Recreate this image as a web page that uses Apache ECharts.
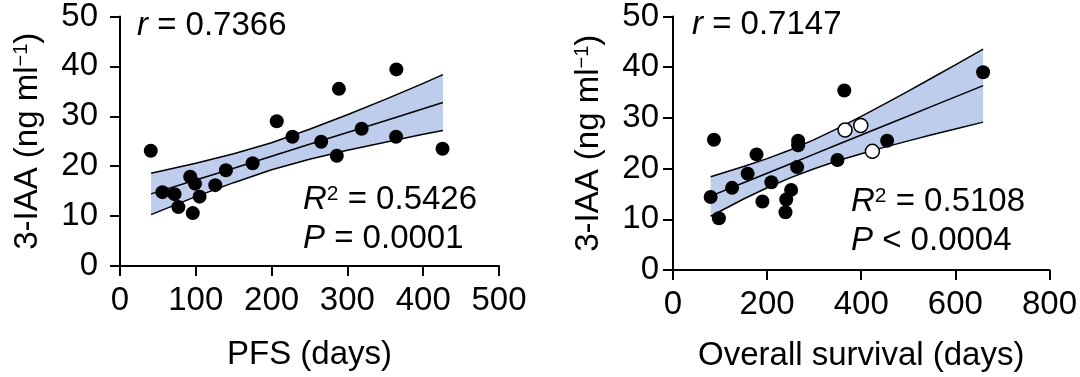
<!DOCTYPE html>
<html>
<head>
<meta charset="utf-8">
<script src="https://cdn.jsdelivr.net/npm/echarts@6/dist/echarts.min.js"></script>
<style>
html,body{margin:0;padding:0;background:#fff;}
#chart{width:1080px;height:377px;}
</style>
</head>
<body>
<div id="chart"></div>
<script>
// ---- Data ----
const pfsX = [40.6, 56, 71.9, 77, 92.6, 99, 96, 105, 125.7, 139.8, 175, 206.8, 227.5, 265.4, 286, 288.8, 318.8, 364.6, 364.2, 425.5];
const pfsY = [23.1, 14.8, 14.4, 11.8, 17.9, 16.5, 10.6, 13.9, 16.2, 19.2, 20.6, 29.0, 25.9, 24.9, 22.1, 35.5, 27.5, 39.4, 25.9, 23.5];

const pfsFitX     = [41, 100, 150, 200, 250, 300, 350, 400, 426];
const pfsFitMid   = [14.45, 17.25, 19.6, 22.0, 24.4, 26.75, 29.1, 31.5, 32.75];
const pfsFitUpper = [18.6, 20.6, 22.5, 24.7, 27.4, 30.3, 33.4, 36.6, 38.35];
const pfsFitLower = [10.3, 13.9, 16.7, 19.3, 21.4, 23.2, 24.8, 26.4, 27.15];

const osX = [80, 87, 97.5, 125.6, 158.6, 177.5, 190, 209, 239, 240.6, 251, 263.8, 265.9, 265.9, 349.5, 364, 455, 659];
const osY = [14.4, 25.7, 10.2, 16.2, 19.0, 22.8, 13.5, 17.3, 11.4, 13.9, 15.8, 20.3, 25.5, 24.6, 21.7, 35.4, 25.5, 39.0];
const osOpenX = [365.6, 399, 423.7];
const osOpenY = [27.6, 28.5, 23.4];

const osFitX     = [80, 150, 200, 250, 300, 350, 400, 450, 500, 550, 600, 659];
const osFitMid   = [14.57, 17.21, 19.09, 20.97, 22.85, 24.74, 26.62, 28.5, 30.38, 32.27, 34.15, 36.37];
const osFitUpper = [18.4, 20.4, 21.96, 23.72, 25.72, 27.94, 30.3, 32.76, 35.29, 37.87, 40.47, 43.57];
const osFitLower = [10.6, 14.0, 16.22, 18.22, 19.98, 21.54, 22.94, 24.24, 25.47, 26.67, 27.83, 29.17];

const yTicks = [0, 10, 20, 30, 40, 50];
const pfsTicks = [0, 100, 200, 300, 400, 500];
const osTicks = [0, 200, 400, 600, 800];

const texts = {
  left:  {r: '0.7366', r2: '0.5426', p: '{i|P} = 0.0001'},
  right: {r: '0.7147', r2: '0.5108', p: '{i|P} < 0.0004'}
};

// ---- helpers ----
const FONT = 'Liberation Sans, Arial, Helvetica, sans-serif';
const FS = 33;
const BAND = '#bdcdeb';
const zip = (a, b) => a.map((v, i) => [v, b[i]]);

function bandSeries(xs, up, lo, xi) {
  return {
    type: 'custom', xAxisIndex: xi, yAxisIndex: xi, z: 1, silent: true,
    data: [0],
    renderItem: function (params, api) {
      const pts = [];
      for (let i = 0; i < xs.length; i++) pts.push(api.coord([xs[i], up[i]]));
      for (let i = xs.length - 1; i >= 0; i--) pts.push(api.coord([xs[i], lo[i]]));
      return {type: 'polygon', shape: {points: pts}, style: {fill: BAND, stroke: null}};
    }
  };
}
function lineSeries(xs, ys, xi) {
  return {
    type: 'line', xAxisIndex: xi, yAxisIndex: xi, z: 2, silent: true,
    data: zip(xs, ys), symbol: 'none',
    lineStyle: {color: '#000', width: 1.5}
  };
}
function xAxisCfg(gi, max, interval, name, gap) {
  return {
    gridIndex: gi, type: 'value', min: 0, max: max, interval: interval,
    name: name, nameLocation: 'middle', nameGap: gap,
    nameTextStyle: {fontFamily: FONT, fontSize: FS, color: '#000'},
    axisLine: {show: true, onZero: false, lineStyle: {color: '#000', width: 2}},
    axisTick: {show: true, length: 10, lineStyle: {color: '#000', width: 2}},
    axisLabel: {fontFamily: FONT, fontSize: FS, color: '#000', margin: 18},
    splitLine: {show: false}
  };
}
function yAxisCfg(gi, margin, gap) {
  return {
    gridIndex: gi, type: 'value', min: 0, max: 50, interval: 10,
    name: '3-IAA (ng ml{sup|−1})', nameLocation: 'middle', nameGap: gap, nameRotate: 90,
    nameTextStyle: {fontFamily: FONT, fontSize: FS, color: '#000',
      rich: {sup: {fontFamily: FONT, fontSize: 20, color: '#000', verticalAlign: 'top', lineHeight: FS}}},
    axisLine: {show: true, onZero: false, lineStyle: {color: '#000', width: 2}},
    axisTick: {show: true, length: 10, lineStyle: {color: '#000', width: 2}},
    axisLabel: {fontFamily: FONT, fontSize: FS, color: '#000', margin: margin},
    splitLine: {show: false}
  };
}
function annot(x, y, text) {
  return {
    type: 'text', x: x, y: y, z: 10,
    style: {
      text: text, fontFamily: FONT, fontSize: FS, fill: '#000',
      align: 'left', verticalAlign: 'middle',
      rich: {
        i: {fontFamily: FONT, fontSize: FS, fontStyle: 'italic', fill: '#000'},
        sup: {fontFamily: FONT, fontSize: 21, fill: '#000', verticalAlign: 'top', lineHeight: FS}
      }
    }
  };
}

const chart = echarts.init(document.getElementById('chart'), null, {renderer: 'canvas'});
chart.setOption({
  animation: false,
  backgroundColor: '#fff',
  grid: [
    {left: 120, top: 12, width: 379, height: 254},
    {left: 673, top: 15, width: 380, height: 255}
  ],
  xAxis: [xAxisCfg(0, 500, 100, 'PFS (days)', 72), xAxisCfg(1, 800, 200, 'Overall survival (days)', 69)],
  yAxis: [yAxisCfg(0, 22, 76), yAxisCfg(1, 14, 68)],
  series: [
    bandSeries(pfsFitX, pfsFitUpper, pfsFitLower, 0),
    lineSeries(pfsFitX, pfsFitMid, 0),
    lineSeries(pfsFitX, pfsFitUpper, 0),
    lineSeries(pfsFitX, pfsFitLower, 0),
    {type: 'scatter', xAxisIndex: 0, yAxisIndex: 0, z: 5, data: zip(pfsX, pfsY),
     symbol: 'circle', symbolSize: 14, itemStyle: {color: '#000', opacity: 1}},
    bandSeries(osFitX, osFitUpper, osFitLower, 1),
    lineSeries(osFitX, osFitMid, 1),
    lineSeries(osFitX, osFitUpper, 1),
    lineSeries(osFitX, osFitLower, 1),
    {type: 'scatter', xAxisIndex: 1, yAxisIndex: 1, z: 5, data: zip(osX, osY),
     symbol: 'circle', symbolSize: 14, itemStyle: {color: '#000', opacity: 1}},
    {type: 'scatter', xAxisIndex: 1, yAxisIndex: 1, z: 5, data: zip(osOpenX, osOpenY),
     symbol: 'circle', symbolSize: 14, itemStyle: {color: '#fff', borderColor: '#000', borderWidth: 1.5, opacity: 1}}
  ],
  graphic: [
    annot(137, 26, '{i|r} = ' + texts.left.r),
    annot(303, 200, '{i|R}{sup|2} = ' + texts.left.r2),
    annot(303, 239, texts.left.p),
    annot(692, 25, '{i|r} = ' + texts.right.r),
    annot(851, 202, '{i|R}{sup|2} = ' + texts.right.r2),
    annot(851, 241, texts.right.p)
  ]
});
</script>
</body>
</html>
